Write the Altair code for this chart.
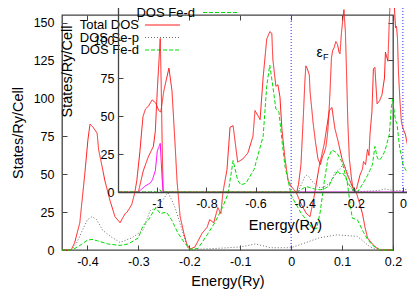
import altair as alt
import pandas as pd

# ---------------- values ----------------
series_names = ["Total DOS", "DOS Se-p", "DOS Fe-d", "DOS Se-s"]
series_colors = ["#ff1a1a", "#6e6e6e", "#00dd00", "#ff00ff"]
series_dashes = [[1, 0], [1, 2], [4, 2], [1, 0]]
legend_names = ["Total DOS", "DOS Se-p", "DOS Fe-d"]
inset_legend_names = ["DOS Fe-d"]   # the only inset key row inside the window

# main panel (energy in Ry, states/Ry/cell)
main_total = [
    (-0.450, 0), (-0.432, 0), (-0.425, 5), (-0.415, 18), (-0.405, 51), (-0.399, 73),
    (-0.395, 83), (-0.389, 81), (-0.381, 77), (-0.378, 66), (-0.370, 53), (-0.366, 46),
    (-0.356, 33), (-0.346, 22), (-0.336, 18), (-0.326, 24), (-0.322, 25), (-0.313, 30),
    (-0.307, 38), (-0.303, 46), (-0.297, 65), (-0.291, 88), (-0.286, 93), (-0.280, 95),
    (-0.273, 99), (-0.266, 97), (-0.260, 92), (-0.256, 91), (-0.250, 105), (-0.240, 120),
    (-0.234, 105), (-0.228, 70), (-0.224, 45), (-0.218, 22), (-0.210, 10), (-0.205, 4),
    (-0.199, 0.5), (-0.189, 2), (-0.175, 11), (-0.165, 15), (-0.160, 20), (-0.152, 18),
    (-0.144, 28), (-0.138, 24), (-0.134, 38), (-0.126, 53), (-0.120, 81), (-0.114, 82),
    (-0.105, 58), (-0.095, 60), (-0.085, 64), (-0.075, 75), (-0.071, 92), (-0.061, 86),
    (-0.055, 114), (-0.048, 139), (-0.042, 144), (-0.038, 143), (-0.036, 126), (-0.030, 108),
    (-0.026, 109), (-0.022, 101), (-0.018, 79), (-0.012, 60), (-0.006, 46), (0.000, 42),
    (0.010, 38), (0.020, 30), (0.030, 24), (0.037, 22), (0.045, 35), (0.055, 55),
    (0.065, 70), (0.075, 92), (0.080, 94), (0.086, 80), (0.092, 72), (0.100, 60),
    (0.110, 50), (0.120, 42), (0.128, 38), (0.135, 30), (0.140, 24), (0.145, 15),
    (0.150, 8), (0.157, 5), (0.165, 2), (0.175, 0), (0.200, 0),
]
main_sep = [
    (-0.450, 0), (-0.432, 0), (-0.422, 4), (-0.410, 13), (-0.400, 20), (-0.391, 22),
    (-0.382, 20), (-0.370, 13), (-0.355, 9), (-0.336, 5), (-0.313, 8), (-0.291, 13),
    (-0.277, 26), (-0.264, 28), (-0.252, 33), (-0.242, 38), (-0.236, 34), (-0.228, 28),
    (-0.214, 13), (-0.203, 1), (-0.196, 0.3), (-0.150, 1), (-0.100, 2), (-0.070, 4),
    (-0.040, 1.5), (0.000, 1.5), (0.030, 5), (0.055, 8), (0.090, 10), (0.130, 9),
    (0.155, 2), (0.175, 0), (0.200, 0),
]
main_fed = [
    (-0.450, 0), (-0.430, 0), (-0.415, 3), (-0.400, 6.5), (-0.391, 7), (-0.380, 6),
    (-0.360, 4), (-0.336, 3), (-0.320, 4), (-0.300, 8), (-0.291, 16), (-0.280, 20),
    (-0.266, 28), (-0.257, 24), (-0.245, 25), (-0.235, 20), (-0.222, 11), (-0.210, 5),
    (-0.200, 1), (-0.195, 0.5), (-0.183, 1), (-0.165, 10), (-0.150, 18), (-0.144, 22),
    (-0.135, 28), (-0.124, 37), (-0.114, 59), (-0.105, 46), (-0.099, 43), (-0.089, 44),
    (-0.073, 53), (-0.055, 75), (-0.048, 108), (-0.042, 122), (-0.036, 108), (-0.030, 93),
    (-0.024, 91), (-0.018, 72), (-0.012, 55), (-0.006, 46), (0.000, 36), (0.010, 30),
    (0.020, 24), (0.030, 20), (0.040, 15), (0.050, 14), (0.057, 25), (0.065, 45),
    (0.072, 60), (0.080, 66), (0.090, 64), (0.100, 58), (0.110, 45), (0.116, 30),
    (0.120, 21), (0.130, 20), (0.140, 13), (0.150, 7), (0.160, 3), (0.175, 0), (0.200, 0),
]

# inset panel: wider energy window (total DOS continues with the main values above)
inset_total_low = [
    (-1.160, 0), (-1.077, 0), (-1.057, 14), (-1.037, 23), (-1.016, 30), (-1.008, 40),
    (-1.000, 67), (-0.988, 101), (-0.984, 70), (-0.980, 30), (-0.976, 0), (-0.450, 0),
]
inset_sep = [
    (-1.160, 0), (-0.432, 0), (-0.422, 2), (-0.410, 6), (-0.400, 10), (-0.391, 11),
    (-0.382, 10), (-0.370, 7), (-0.355, 5), (-0.336, 2.5), (-0.313, 4), (-0.291, 7),
    (-0.277, 13), (-0.264, 14), (-0.252, 16), (-0.242, 19), (-0.236, 17), (-0.228, 14),
    (-0.214, 7), (-0.203, 0.5), (-0.196, 0.2), (-0.150, 0.5), (-0.100, 1), (-0.070, 2),
    (-0.040, 1), (0.000, 1), (0.030, 2.5), (0.055, 4), (0.090, 5), (0.130, 4.5),
    (0.155, 1), (0.175, 0), (0.200, 0),
]
inset_fed = [
    (-1.160, 0), (-1.000, 0), (-0.990, 1.5), (-0.980, 0), (-0.430, 0), (-0.415, 1.5),
    (-0.400, 3), (-0.391, 3.5), (-0.380, 3), (-0.360, 2), (-0.336, 1.5), (-0.320, 2),
    (-0.300, 4), (-0.291, 8), (-0.280, 10), (-0.266, 14), (-0.257, 12), (-0.245, 12.5),
    (-0.235, 10), (-0.222, 5.5), (-0.210, 2.5), (-0.200, 0.5), (-0.195, 0.3), (-0.183, 0.5),
    (-0.165, 5), (-0.150, 9), (-0.144, 11), (-0.135, 14), (-0.124, 18), (-0.114, 30),
    (-0.105, 23), (-0.099, 21), (-0.089, 22), (-0.073, 27), (-0.055, 38), (-0.048, 54),
    (-0.042, 61), (-0.036, 54), (-0.030, 47), (-0.024, 45), (-0.018, 36), (-0.012, 28),
    (-0.006, 24), (0.000, 18), (0.010, 15), (0.020, 12), (0.030, 10), (0.040, 7.5),
    (0.050, 7), (0.057, 12), (0.065, 22), (0.072, 30), (0.080, 33), (0.090, 32),
    (0.100, 29), (0.110, 22), (0.116, 15), (0.120, 10), (0.130, 10), (0.140, 6.5),
    (0.150, 3.5), (0.160, 1.5), (0.175, 0), (0.200, 0),
]
inset_ses = [
    (-1.077, 0), (-1.049, 4), (-1.028, 6), (-1.020, 8), (-1.008, 14), (-1.000, 27),
    (-0.988, 32), (-0.984, 20), (-0.980, 8), (-0.976, 0),
]
inset_ses_zero = [(-0.430, 0), (0.200, 0)]

main_xticks = [-0.4, -0.3, -0.2, -0.1, 0.0, 0.1, 0.2]
main_yticks = [0, 25, 50, 75, 100, 125, 150]
inset_xticks = [-1.0, -0.8, -0.6, -0.4, -0.2, 0.0]
inset_yticks = [0, 25, 50, 75, 100]
fermi_energy = [0.0]
eps_label = {"E": [0.050], "D": [127.5], "t": ["ε"]}
eps_sub = {"E": [0.0625], "D": [125.3], "t": ["F"]}

# ---------------- build tables ----------------
def frame(pairs, name, seg=0):
    return pd.DataFrame({
        "E": [p[0] for p in pairs],
        "D": [p[1] for p in pairs],
        "series": name,
        "seg": f"{name}-{seg}",
    })

main_df = pd.concat([
    frame(main_total, "Total DOS"),
    frame(main_sep, "DOS Se-p"),
    frame(main_fed, "DOS Fe-d"),
], ignore_index=True)

inset_df = pd.concat([
    frame(inset_total_low + main_total, "Total DOS"),
    frame(inset_sep, "DOS Se-p"),
    frame(inset_fed, "DOS Fe-d"),
    frame(inset_ses, "DOS Se-s", 0),
    frame(inset_ses_zero, "DOS Se-s", 1),
], ignore_index=True)

# ---------------- geometry ----------------
W, H = 331, 235
FONT = "Liberation Sans"
xs_main = alt.Scale(domain=[-0.45, 0.2], range=[0, W], nice=False, zero=False)
ys_main = alt.Scale(domain=[0, 155], range=[H, 0], nice=False, zero=False)
xs_inset = alt.Scale(domain=[-1.16, 0.2], range=[56, 390], nice=False, zero=False)
ys_inset = alt.Scale(domain=[0, 160], range=[177, 177 - 1.52 * 160], nice=False, zero=False)

LBL = "datum.value < 0 ? '-' + format(-datum.value, '~g') : format(datum.value, '~g')"
AX = dict(
    grid=False, labelFont=FONT, labelFontSize=12.5, labelColor="black",
    titleFont=FONT, titleFontSize=14.5, titleFontWeight="normal", titleColor="black",
    tickColor="#444444", domainColor="#444444", tickWidth=1, domainWidth=1.3,
    labelFlush=False, labelOverlap=False, tickSize=alt.ExprRef(expr="-5"),
)

color = alt.Color("series:N", scale=alt.Scale(domain=series_names, range=series_colors), legend=None)
dash = alt.StrokeDash("series:N", scale=alt.Scale(domain=series_names, range=series_dashes), legend=None)

main_lines = alt.Chart(main_df).mark_line(strokeWidth=1).encode(
    x=alt.X("E:Q", scale=xs_main, axis=alt.Axis(
        orient="bottom", values=main_xticks, labelExpr=LBL, labelPadding=10.5, domain=False,
        title="Energy(Ry)", titleX=W / 2, titleY=35, titleAlign="center",
        titleBaseline="alphabetic", **AX)),
    y=alt.Y("D:Q", scale=ys_main, axis=alt.Axis(
        orient="left", values=main_yticks, labelPadding=13, domain=False,
        title="States/Ry/Cell", titleX=-40, titleY=H / 2, titleAngle=270,
        titleAlign="center", titleBaseline="alphabetic", **AX)),
    color=color, strokeDash=dash, detail="seg:N",
)

main_mirror = alt.Chart(main_df).mark_line(opacity=0).encode(
    x=alt.X("E:Q", scale=xs_main, axis=alt.Axis(
        orient="top", values=main_xticks, labels=False, domain=False, title=None, **AX)),
    y=alt.Y("D:Q", scale=ys_main, axis=alt.Axis(
        orient="right", values=main_yticks, labels=False, domain=False, title=None, **AX)),
    detail="seg:N",
)

fermi_main = alt.Chart(pd.DataFrame({"E": fermi_energy})).mark_rule(
    color="#2a2aff", strokeDash=[1, 2], strokeWidth=1
).encode(x=alt.X("E:Q", scale=xs_main, axis=None))

eps_main = alt.Chart(pd.DataFrame(eps_label)).mark_text(
    align="left", baseline="alphabetic", font=FONT, fontSize=14, color="black"
).encode(x=alt.X("E:Q", scale=xs_main, axis=None), y=alt.Y("D:Q", scale=ys_main, axis=None), text="t:N")

eps_f = alt.Chart(pd.DataFrame(eps_sub)).mark_text(
    align="left", baseline="alphabetic", font=FONT, fontSize=9, color="black"
).encode(x=alt.X("E:Q", scale=xs_main, axis=None), y=alt.Y("D:Q", scale=ys_main, axis=None), text="t:N")


def key(names, x_text, x0, x1, y0):
    parts = []
    for i, name in enumerate(names):
        k = series_names.index(name)
        yy = y0 + 12.5 * i
        parts.append(alt.Chart(pd.DataFrame({"t": [name]})).mark_text(
            align="right", baseline="middle", font=FONT, fontSize=13, color="black"
        ).encode(text="t:N", x=alt.value(x_text), y=alt.value(yy)))
        parts.append(alt.Chart(pd.DataFrame({"t": [name]})).mark_rule(
            color=series_colors[k], strokeDash=series_dashes[k], strokeWidth=1
        ).encode(x=alt.value(x0), x2=alt.value(x1), y=alt.value(yy)))
    return parts

main_key = key(legend_names, 77, 83, 118, 10)

inset_lines = alt.Chart(inset_df).mark_line(strokeWidth=1).encode(
    x=alt.X("E:Q", scale=xs_inset, axis=alt.Axis(
        orient="bottom", offset=-58, values=inset_xticks, labelExpr=LBL, labelPadding=10.5,
        domain=True, zindex=1, title="Energy(Ry)", titleX=223, titleY=37,
        titleAlign="center", titleBaseline="alphabetic", **AX)),
    y=alt.Y("D:Q", scale=ys_inset, axis=alt.Axis(
        orient="left", offset=-56, values=inset_yticks, labelPadding=9, domain=True,
        zindex=1, title="States/Ry/Cell", titleX=-47, titleY=56, titleAngle=270,
        titleAlign="center", titleBaseline="alphabetic", **AX)),
    color=color, strokeDash=dash, detail="seg:N",
)

fermi_inset = alt.Chart(pd.DataFrame({"E": fermi_energy, "D0": [0], "D1": [160]})).mark_rule(
    color="#2a2aff", strokeDash=[1, 2], strokeWidth=1
).encode(
    x=alt.X("E:Q", scale=xs_inset, axis=None),
    y=alt.Y("D0:Q", scale=ys_inset, axis=None),
    y2="D1:Q",
)

inset_key = key(inset_legend_names, 133, 141, 175, -2.5)

chart = alt.layer(
    main_lines, main_mirror, fermi_main, eps_main, eps_f, *main_key,
    inset_lines, fermi_inset, *inset_key,
).resolve_scale(x="independent", y="independent").properties(
    width=W, height=H, autosize="none",
    padding={"left": 54, "top": 7, "right": 14, "bottom": 39},
).configure_view(stroke="#444444", strokeWidth=1.3)

chart.save("out.html", embed_options={"renderer": "svg", "actions": False})
